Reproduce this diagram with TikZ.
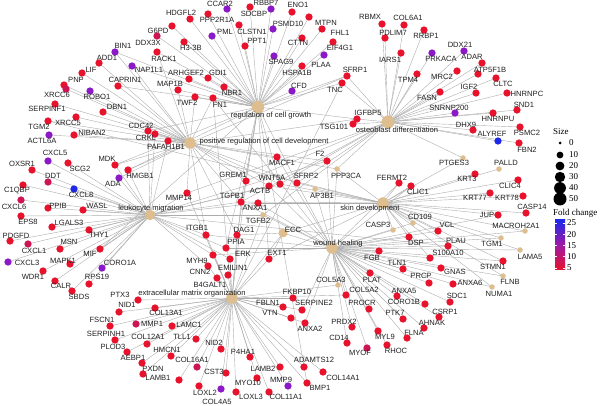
\documentclass[tikz,border=0pt]{standalone}
\usepackage{fontspec}
\setmainfont{Liberation Sans}
\newfontfamily\legfont{Liberation Serif}
\pgfdeclarelayer{bg}
\pgfsetlayers{bg,main}
\definecolor{cR}{RGB}{232,18,45}
\definecolor{cM}{RGB}{205,20,85}
\definecolor{cP}{RGB}{140,25,200}
\definecolor{cB}{RGB}{30,40,235}
\definecolor{cT}{RGB}{222,190,142}
\definecolor{cE}{RGB}{172,172,172}
\tikzset{
 gdot/.style={circle,inner sep=0pt,minimum size=7.3pt,draw=none},
 hub/.style={circle,inner sep=0pt,minimum size=11.5pt,fill=cT,draw=none},
 lbl/.style={inner sep=0pt,text=black!88,font=\fontsize{7.6}{8}\selectfont},
 edge/.style={draw=cE,line width=0.4pt},
 leg/.style={inner sep=0pt,font=\legfont\fontsize{9}{10}\selectfont},
}
\newcommand\gn[7]{\node[gdot,#4] (#1) at (#2,#3) {};\node[lbl] (#1-l) at (#5,#6) {#7};}
\begin{document}
\begin{tikzpicture}[x=1pt,y=-1pt]
\useasboundingbox (0,0) rectangle (600,406);
% hubs
\node[hub,minimum size=12.5pt] (rcg) at (258,107) {}; \node[lbl] (rcg-l) at (271,116) {regulation of cell growth};
\node[hub] (prcd) at (190,143) {}; \node[lbl] (prcd-l) at (264,142) {positive regulation of cell development};
\node[hub,minimum size=13pt] (ost) at (388,122) {}; \node[lbl] (ost-l) at (397,130) {osteoblast differentiation};
\node[hub,minimum size=10.5pt] (leu) at (150,215) {}; \node[lbl] (leu-l) at (151,209) {leukocyte migration};
\node[hub] (skin) at (383,203) {}; \node[lbl] (skin-l) at (370,209) {skin development};
\node[hub] (wh) at (332,248) {}; \node[lbl] (wh-l) at (338,244) {wound healing};
\node[hub] (ecm) at (232,298) {}; \node[lbl] (ecm-l) at (192,294) {extracellular matrix organization};
\node[hub,minimum size=9pt] (ecc) at (283,233) {}; \node[lbl] (ecc-l) at (293,230) {ECC};
% regulation of cell growth genes
\gn{ccar2}{227}{9}{fill=cP}{220}{4}{CCAR2}
\gn{rbbp7}{271}{9}{fill=cP}{266}{3}{RBBP7}
\gn{sdcbp}{250}{7}{fill=cR}{254}{14}{SDCBP}
\gn{eno1}{292}{12}{fill=cR}{298}{5}{ENO1}
\gn{hdgfl2}{190}{19}{fill=cR}{181}{13}{HDGFL2}
\gn{ppp2r1a}{208}{14}{fill=cR}{217}{20}{PPP2R1A}
\gn{pml}{212}{36}{fill=cP}{225}{32}{PML}
\gn{clstn1}{239}{25}{fill=cR}{252}{32}{CLSTN1}
\gn{psmd10}{273}{29}{fill=cP}{288}{24}{PSMD10}
\gn{ppt1}{245}{46}{fill=cR}{257}{41}{PPT1}
\gn{g6pd}{172}{26}{fill=cR}{158}{31}{G6PD}
\gn{ddx3x}{157}{36}{fill=cM}{148}{43}{DDX3X}
\gn{h33b}{184}{42}{fill=cR}{191}{48}{H3-3B}
\gn{rack1}{157}{52}{fill=cR}{164}{59}{RACK1}
\gn{nap1l1}{132}{66}{fill=cP}{149}{70}{NAP1L1}
\gn{arhgef2}{189}{79}{fill=cR}{186}{73}{ARHGEF2}
\gn{gdi1}{208}{78}{fill=cR}{218}{73}{GDI1}
\gn{map1b}{178}{90}{fill=cR}{170}{84}{MAP1B}
\gn{nbr1}{224}{87}{fill=cR}{232}{93}{NBR1}
\gn{twf2}{195}{97}{fill=cR}{187}{103}{TWF2}
\gn{fn1}{213}{98}{fill=cR}{220}{105}{FN1}
\gn{mtpn}{309}{17}{fill=cR}{326}{23}{MTPN}
\gn{fhl1}{322}{29}{fill=cR}{340}{33}{FHL1}
\gn{cttn}{302}{38}{fill=cR}{298}{43}{CTTN}
\gn{eif4g1}{333}{42}{fill=cR}{340}{48}{EIF4G1}
\gn{spag9}{274}{56}{fill=cP}{281}{62}{SPAG9}
\gn{plaa}{324}{55}{fill=cP}{321}{65}{PLAA}
\gn{hspa1b}{302}{66}{fill=cR}{297}{73}{HSPA1B}
\gn{cfd}{292}{91}{fill=cP}{299}{86}{CFD}
\gn{sfrp1}{347}{76}{fill=cR}{355}{70}{SFRP1}
\gn{tnc}{342}{83}{fill=cR}{335}{90}{TNC}
% osteoblast genes
\gn{igfbp5}{357}{119}{fill=cR}{368}{113}{IGFBP5}
\gn{tsg101}{353}{124}{fill=cR}{334}{127}{TSG101}
\gn{rbmx}{382}{24}{fill=cR}{370}{17}{RBMX}
\gn{col6a1}{404}{25}{fill=cR}{408}{18}{COL6A1}
\gn{pdlim7}{385}{38}{fill=cR}{393}{33}{PDLIM7}
\gn{rrbp1}{424}{30}{fill=cR}{426}{36}{RRBP1}
\gn{iars1}{401}{53}{fill=cR}{390}{60}{IARS1}
\gn{prkaca}{432}{53}{fill=cP}{441}{59}{PRKACA}
\gn{tpm4}{417}{74}{fill=cR}{408}{80}{TPM4}
\gn{mrc2}{457}{71}{fill=cR}{442}{77}{MRC2}
\gn{fasn}{440}{92}{fill=cR}{427}{98}{FASN}
\gn{snrnp200}{455}{113}{fill=cP}{449}{108}{SNRNP200}
\gn{ddx21}{464}{51}{fill=cP}{460}{45}{DDX21}
\gn{adar}{482}{63}{fill=cR}{472}{57}{ADAR}
\gn{atp5f1b}{478}{74}{fill=cR}{490}{70}{ATP5F1B}
\gn{igf2}{476}{93}{fill=cR}{469}{87}{IGF2}
\gn{cltc}{496}{78}{fill=cR}{503}{84}{CLTC}
\gn{hnrnpc}{507}{93}{fill=cR}{527}{94}{HNRNPC}
\gn{snd1}{517}{110}{fill=cR}{524}{105}{SND1}
\gn{hnrnpu}{493}{113}{fill=cR}{498}{119}{HNRNPU}
\gn{dhx9}{473}{130}{fill=cR}{466}{125}{DHX9}
\gn{psmc2}{520}{127}{fill=cR}{527}{133}{PSMC2}
\gn{alyref}{498}{141}{fill=cB}{492}{134}{ALYREF}
\gn{fbn2}{519}{143}{fill=cR}{527}{150}{FBN2}
% skin genes
\gn{ptges3}{463}{158}{fill=cT,minimum size=5.5pt}{454}{163}{PTGES3}
\gn{palld}{499}{169}{fill=cT,minimum size=5.5pt}{506}{163}{PALLD}
\gn{krt3}{475}{174}{fill=cR}{467}{179}{KRT3}
\gn{clic4}{518}{180}{fill=cR}{510}{186}{CLIC4}
\gn{krt77}{490}{193}{fill=cR}{475}{198}{KRT77}
\gn{krt78}{523}{196}{fill=cR}{507}{198}{KRT78}
\gn{casp14}{526}{213}{fill=cR}{532}{207}{CASP14}
\gn{jup}{498}{215}{fill=cR}{487}{215}{JUP}
\gn{macroh2a1}{525}{231}{fill=cT,minimum size=5.5pt}{516}{226}{MACROH2A1}
\gn{tgm1}{501}{238}{fill=cT,minimum size=5.5pt}{492}{244}{TGM1}
\gn{lama5}{520}{250}{fill=cT,minimum size=5.5pt}{530}{257}{LAMA5}
\gn{stmn1}{503}{261}{fill=cR}{493}{267}{STMN1}
\gn{flnb}{503}{276}{fill=cT,minimum size=5.5pt}{510}{282}{FLNB}
\gn{numa1}{492}{287}{fill=cT,minimum size=5.5pt}{499}{294}{NUMA1}
\gn{anxa6}{453}{284}{fill=cR}{470}{283}{ANXA6}
\gn{sdc1}{450}{302}{fill=cR}{457}{296}{SDC1}
\gn{csrp1}{439}{317}{fill=cR}{445}{312}{CSRP1}
\gn{gnas}{441}{268}{fill=cR}{455}{272}{GNAS}
\gn{fermt2}{399}{183}{fill=cR}{392}{178}{FERMT2}
\gn{clic1}{411}{186}{fill=cR}{418}{192}{CLIC1}
\gn{cd109}{413}{223}{fill=cT,minimum size=5.5pt}{420}{217}{CD109}
\gn{casp3}{393}{230}{fill=cT,minimum size=5.5pt}{378}{225}{CASP3}
\gn{vcl}{438}{231}{fill=cR}{447}{225}{VCL}
\gn{dsp}{409}{237}{fill=cR}{416}{243}{DSP}
\gn{plau}{448}{246}{fill=cR}{456}{241}{PLAU}
\gn{s100a10}{430}{258}{fill=cR}{448}{253}{S100A10}
\gn{fgb}{379}{251}{fill=cR}{372}{258}{FGB}
\gn{tln1}{403}{269}{fill=cR}{397}{263}{TLN1}
% central genes
\gn{f2}{327}{161}{fill=cR}{320}{154}{F2}
\gn{ppp3ca}{337}{169}{fill=cT,minimum size=5.5pt}{346}{176}{PPP3CA}
\gn{ap3b1}{315}{189}{fill=cT,minimum size=5.5pt}{322}{196}{AP3B1}
\gn{sfrp2}{297}{183}{fill=cR}{306}{176}{SFRP2}
\gn{macf1}{277}{157}{fill=cR}{282}{163}{MACF1}
\gn{wnt5a}{280}{184}{fill=cR}{272}{178}{WNT5A}
\gn{actb}{269}{186}{fill=cR}{260}{191}{ACTB}
\gn{grem1}{246}{181}{fill=cR}{233}{175}{GREM1}
\gn{tgfb1}{241}{202}{fill=cR}{232}{196}{TGFB1}
\gn{anxa1}{258}{203}{fill=cR}{255}{208}{ANXA1}
\gn{tgfb2}{263}{215}{fill=cT,minimum size=5.5pt}{258}{221}{TGFB2}
\gn{itgb1}{206}{235}{fill=cR}{197}{228}{ITGB1}
\gn{dag1}{237}{235}{fill=cR}{244}{230}{DAG1}
\gn{ppia}{226}{248}{fill=cR}{236}{242}{PPIA}
\gn{erk}{230}{259}{fill=cR}{243}{254}{ERK}
\gn{ext1}{269}{259}{fill=cR}{277}{253}{EXT1}
\gn{myh9}{213}{255}{fill=cR}{197}{261}{MYH9}
\gn{cnn2}{208}{266}{fill=cR}{200}{272}{CNN2}
\gn{emilin1}{228}{275}{fill=cR}{233}{268}{EMILIN1}
\gn{b4galt1}{217}{278}{fill=cR}{210}{285}{B4GALT1}
\gn{mmp14}{187}{193}{fill=cR}{179}{198}{MMP14}
\gn{pafah1b1}{168}{141}{fill=cR}{166}{147}{PAFAH1B1}
\gn{crkl}{155}{134}{fill=cR}{146}{138}{CRKL}
% leukocyte genes
\gn{actl6a}{49}{135}{fill=cP}{42}{141}{ACTL6A}
\gn{cxcl5}{48}{161}{fill=cP}{55}{153}{CXCL5}
\gn{scg2}{68}{163}{fill=cR}{80}{169}{SCG2}
\gn{oxsr1}{32}{170}{fill=cR}{22}{164}{OXSR1}
\gn{mdk}{115}{165}{fill=cR}{107}{159}{MDK}
\gn{hmgb1}{128}{170}{fill=cR}{140}{176}{HMGB1}
\gn{ada}{119}{178}{fill=cP}{113}{184}{ADA}
\gn{ddt}{48}{182}{fill=cM}{53}{176}{DDT}
\gn{cxcl8}{74}{189}{fill=cB}{81}{195}{CXCL8}
\gn{c1qbp}{23}{185}{fill=cR}{17}{191}{C1QBP}
\gn{cxcl6}{21}{200}{fill=cM}{14}{207}{CXCL6}
\gn{ppib}{48}{208}{fill=cR}{58}{206}{PPIB}
\gn{wasl}{83}{210}{fill=cR}{97}{206}{WASL}
\gn{eps8}{21}{216}{fill=cR}{28}{222}{EPS8}
\gn{lgals3}{52}{227}{fill=cR}{69}{223}{LGALS3}
\gn{pdgfd}{10}{241}{fill=cR}{16}{236}{PDGFD}
\gn{thy1}{89}{230}{fill=cR}{99}{235}{THY1}
\gn{msn}{60}{249}{fill=cR}{69}{242}{MSN}
\gn{cxcl1}{28}{244}{fill=cM}{34}{251}{CXCL1}
\gn{mif}{100}{249}{fill=cR}{90}{254}{MIF}
\gn{cxcl3}{8}{262}{fill=cP}{27}{263}{CXCL3}
\gn{mapk1}{70}{264}{fill=cR}{63}{261}{MAPK1}
\gn{coro1a}{102}{268}{fill=cP}{120}{263}{CORO1A}
\gn{wdr1}{43}{271}{fill=cR}{33}{277}{WDR1}
\gn{calr}{55}{281}{fill=cR}{61}{286}{CALR}
\gn{rps19}{89}{284}{fill=cR}{97}{277}{RPS19}
\gn{sbds}{72}{291}{fill=cR}{79}{297}{SBDS}
% cell development genes (top left)
\gn{bin1}{115}{52}{fill=cP}{123}{46}{BIN1}
\gn{add1}{99}{63}{fill=cR}{107}{58}{ADD1}
\gn{lif}{82}{73}{fill=cR}{91}{70}{LIF}
\gn{pnp}{64}{85}{fill=cR}{76}{80}{PNP}
\gn{caprin1}{118}{86}{fill=cR}{125}{80}{CAPRIN1}
\gn{xrcc6}{66}{89}{fill=cM}{57}{95}{XRCC6}
\gn{robo1}{90}{91}{fill=cP}{97}{97}{ROBO1}
\gn{serpinf1}{55}{104}{fill=cR}{47}{109}{SERPINF1}
\gn{dbn1}{103}{112}{fill=cR}{117}{107}{DBN1}
\gn{xrcc5}{76}{117}{fill=cR}{68}{123}{XRCC5}
\gn{tgm2}{48}{121}{fill=cR}{39}{127}{TGM2}
\gn{cdc42}{148}{131}{fill=cR}{141}{126}{CDC42}
\gn{niban2}{74}{135}{fill=cR}{92}{133}{NIBAN2}
% ECM genes
\gn{ptx3}{138}{300}{fill=cR}{120}{295}{PTX3}
\gn{nid1}{119}{312}{fill=cR}{127}{305}{NID1}
\gn{fscn1}{110}{326}{fill=cR}{102}{320}{FSCN1}
\gn{serpinh1}{115}{340}{fill=cR}{106}{334}{SERPINH1}
\gn{plod3}{127}{352}{fill=cR}{113}{347}{PLOD3}
\gn{aebp1}{142}{363}{fill=cR}{133}{358}{AEBP1}
\gn{col13a1}{155}{308}{fill=cR}{166}{313}{COL13A1}
\gn{mmp1}{136}{324}{fill=cM}{152}{324}{MMP1}
\gn{col12a1}{147}{344}{fill=cR}{148}{337}{COL12A1}
\gn{lamc1}{172}{326}{fill=cR}{189}{325}{LAMC1}
\gn{tll1}{196}{339}{fill=cR}{182}{337}{TLL1}
\gn{hmcn1}{171}{356}{fill=cR}{167}{350}{HMCN1}
\gn{pxdn}{143}{374}{fill=cR}{153}{369}{PXDN}
\gn{lamb1}{179}{380}{fill=cR}{158}{378}{LAMB1}
\gn{col16a1}{197}{367}{fill=cM}{192}{360}{COL16A1}
\gn{nid2}{221}{349}{fill=cR}{214}{343}{NID2}
\gn{cst3}{226}{373}{fill=cR}{214}{372}{CST3}
\gn{loxl2}{199}{386}{fill=cR}{205}{393}{LOXL2}
\gn{col4a5}{221}{389}{fill=cP}{217}{402}{COL4A5}
\gn{p4ha1}{250}{357}{fill=cR}{243}{352}{P4HA1}
\gn{lamb2}{280}{367}{fill=cR}{263}{369}{LAMB2}
\gn{myo10}{257}{378}{fill=cR}{248}{383}{MYO10}
\gn{loxl3}{236}{392}{fill=cR}{251}{397}{LOXL3}
\gn{mmp9}{288}{386}{fill=cP}{281}{380}{MMP9}
\gn{col11a1}{269}{392}{fill=cR}{286}{397}{COL11A1}
\gn{adamts12}{304}{367}{fill=cR}{314}{360}{ADAMTS12}
\gn{col14a1}{323}{372}{fill=cR}{343}{378}{COL14A1}
\gn{bmp1}{307}{383}{fill=cR}{320}{388}{BMP1}
\gn{fbln1}{283}{307}{fill=cR}{268}{303}{FBLN1}
\gn{vtn}{291}{318}{fill=cR}{270}{313}{VTN}
\gn{fkbp10}{293}{298}{fill=cR}{297}{292}{FKBP10}
\gn{col5a3}{338}{285}{fill=cT,minimum size=5.5pt}{331}{280}{COL5A3}
\gn{col5a2}{346}{295}{fill=cR}{364}{290}{COL5A2}
\gn{serpine2}{302}{310}{fill=cR}{314}{303}{SERPINE2}
\gn{anxa2}{305}{323}{fill=cR}{310}{329}{ANXA2}
% wound healing genes
\gn{plat}{370}{273}{fill=cR}{372}{280}{PLAT}
\gn{prcp}{429}{283}{fill=cR}{421}{276}{PRCP}
\gn{anxa5}{397}{296}{fill=cR}{404}{291}{ANXA5}
\gn{procr}{369}{309}{fill=cR}{362}{303}{PROCR}
\gn{coro1b}{425}{304}{fill=cR}{404}{302}{CORO1B}
\gn{ptk7}{403}{319}{fill=cR}{395}{313}{PTK7}
\gn{ahnak}{424}{328}{fill=cR}{432}{323}{AHNAK}
\gn{prdx2}{352}{327}{fill=cR}{344}{322}{PRDX2}
\gn{myl9}{378}{331}{fill=cR}{385}{337}{MYL9}
\gn{flna}{407}{338}{fill=cR}{414}{333}{FLNA}
\gn{cd14}{347}{343}{fill=cR}{339}{338}{CD14}
\gn{rhoc}{387}{345}{fill=cR}{396}{351}{RHOC}
\gn{myof}{367}{348}{fill=cM}{360}{353}{MYOF}
% edges
\begin{pgfonlayer}{bg}
\foreach \g in {ccar2,rbbp7,sdcbp,eno1,hdgfl2,ppp2r1a,pml,clstn1,psmd10,ppt1,g6pd,ddx3x,h33b,rack1,nap1l1,arhgef2,gdi1,map1b,nbr1,twf2,fn1,mtpn,fhl1,cttn,eif4g1,spag9,plaa,hspa1b,cfd,sfrp1,tnc,igfbp5,bin1,caprin1,tgfb1,grem1,dag1,ppia,sfrp2,cdc42,mdk,hmgb1,wnt5a,mif,ext1,bmp1}
  \draw[edge] (rcg.center) -- (\g.center);
\foreach \g in {bin1,add1,lif,pnp,caprin1,xrcc6,robo1,serpinf1,dbn1,xrcc5,tgm2,cdc42,niban2,actl6a,crkl,pafah1b1,nap1l1,rack1,map1b,twf2,fn1,grem1,tgfb1,actb,macf1,wnt5a,sfrp2,mmp14,itgb1,dag1,sfrp1,igfbp5,mdk,hmgb1,ada,f2,ppp3ca}
  \draw[edge] (prcd.center) -- (\g.center);
\foreach \g in {rbmx,col6a1,pdlim7,rrbp1,iars1,prkaca,tpm4,mrc2,fasn,snrnp200,ddx21,adar,atp5f1b,igf2,cltc,hnrnpc,snd1,hnrnpu,dhx9,psmc2,alyref,fbn2,igfbp5,tsg101,sfrp1,grem1,tgfb1,wnt5a,sfrp2,mmp14,ptges3,ppp3ca,tgfb2,tnc}
  \draw[edge] (ost.center) -- (\g.center);
\foreach \g in {ptges3,palld,krt3,clic4,krt77,krt78,casp14,jup,macroh2a1,tgm1,lama5,stmn1,flnb,numa1,fermt2,clic1,cd109,casp3,dsp,s100a10,vcl,ap3b1,ppp3ca,tgfb1,actb,anxa1,ext1,wnt5a,sfrp2,tgm2}
  \draw[edge] (skin.center) -- (\g.center);
\foreach \g in {f2,ppp3ca,ap3b1,fgb,tln1,plat,prcp,anxa5,procr,coro1b,ptk7,ahnak,prdx2,myl9,flna,cd14,rhoc,myof,serpine2,anxa2,csrp1,sdc1,anxa6,gnas,vcl,plau,s100a10,dsp,casp3,cd109,col5a2,col5a3,fermt2,clic1,tgfb1,tgfb2,actb,itgb1,fn1,myh9,anxa1,ppia,jup,flnb,numa1,stmn1,macf1,sfrp2,ecc,macroh2a1,tgm1,lama5}
  \draw[edge] (wh.center) -- (\g.center);
\foreach \g in {ptx3,nid1,fscn1,serpinh1,plod3,aebp1,col13a1,mmp1,col12a1,lamc1,tll1,hmcn1,pxdn,lamb1,col16a1,nid2,cst3,loxl2,col4a5,p4ha1,lamb2,myo10,loxl3,mmp9,col11a1,adamts12,col14a1,bmp1,fbln1,vtn,fkbp10,col5a3,col5a2,b4galt1,emilin1,cnn2,ext1,erk,myh9,dag1,itgb1,tgfb1,tgfb2,mmp14,fn1,serpine2,anxa2,tnc,grem1,ecc}
  \draw[edge] (ecm.center) -- (\g.center);
\foreach \g in {cxcl5,scg2,oxsr1,mdk,hmgb1,ada,ddt,cxcl8,c1qbp,cxcl6,ppib,wasl,eps8,lgals3,pdgfd,thy1,msn,cxcl1,mif,cxcl3,mapk1,coro1a,wdr1,calr,rps19,sbds,pafah1b1,crkl,cdc42,itgb1,ppia,mmp14,tgfb1,tgfb2,anxa1,actb,cnn2,myh9,wnt5a,f2,plau,erk}
  \draw[edge] (leu.center) -- (\g.center);
\foreach \g in {skin,dag1,ext1}
  \draw[edge] (ecc.center) -- (\g.center);
\end{pgfonlayer}
% legend
\node[leg,anchor=west] (sz-t) at (553,132) {Size};
\foreach \r/\v/\yy [count=\i] in {1.5/0/143,3.4/10/155,4.4/20/166,5.2/30/177,5.9/40/188,6.5/50/199}{
  \fill[black] (560,\yy) circle[radius=\r pt];
  \node[leg,anchor=west] (sz-\i) at (569,\yy) {\v};
}
\node[leg,anchor=west] (fc-t) at (553,213) {Fold change};
\shade[top color=cB,bottom color=cR,middle color={rgb,255:red,160;green,25;blue,165}] (555,220) rectangle (565,270);
\foreach \v/\yy in {25/223,20/234.5,15/245.5,10/256.5,5/268}{
  \draw[white,line width=0.5pt] (555,\yy) -- (557,\yy) (563,\yy) -- (565,\yy);
  \node[leg,anchor=west] at (567,\yy) {\v};
}
\end{tikzpicture}
\end{document}
